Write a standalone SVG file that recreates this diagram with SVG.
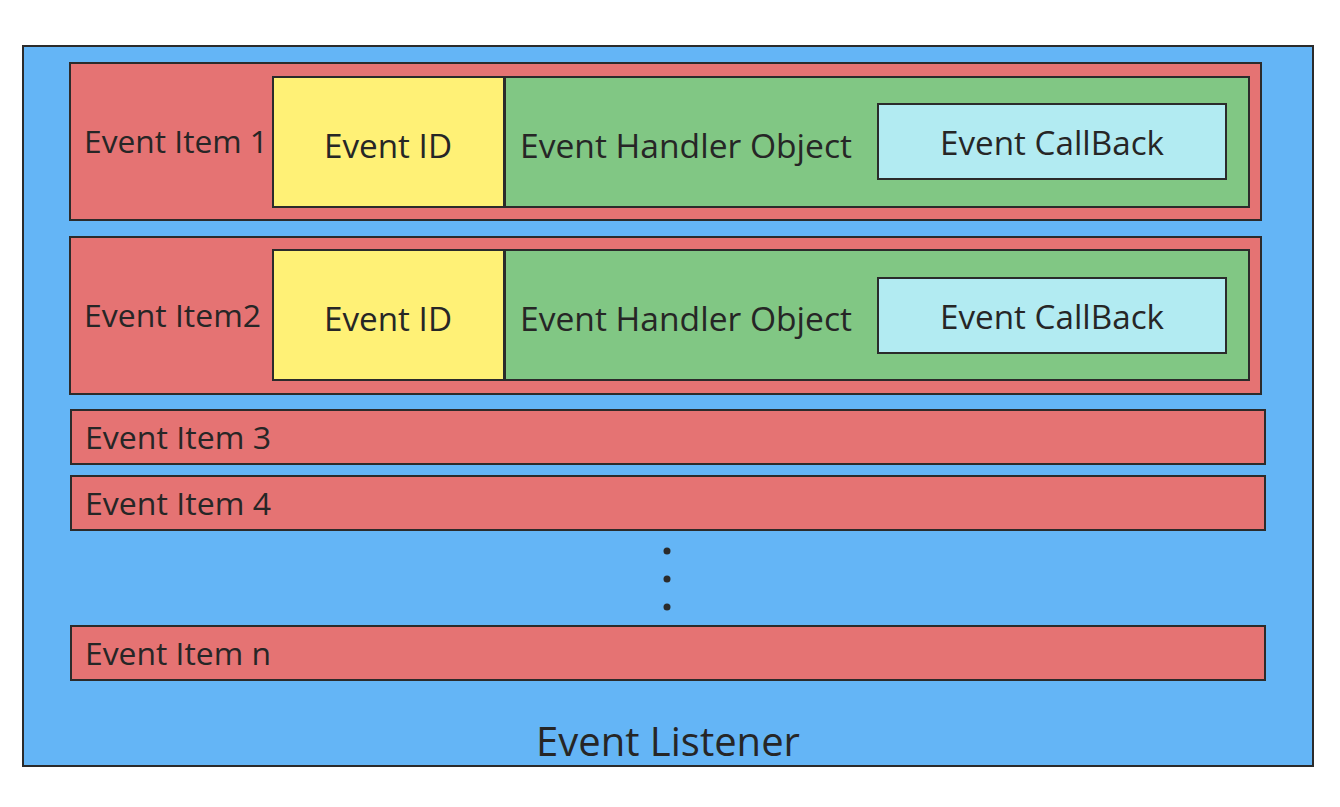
<svg xmlns="http://www.w3.org/2000/svg" width="1340" height="807" viewBox="0 0 1340 807">
  <style>
    .box { stroke: #2b2b2b; stroke-width: 2; }
    .listener { fill: #64b5f6; }
    .item { fill: #e57373; }
    .id { fill: #fff176; }
    .handler { fill: #81c784; }
    .cb { fill: #b2ebf2; }
    text { font-family: "Open Sans", "Noto Sans", sans-serif; fill: #262626; }
    .lbl { font-size: 31px; }
    .inner { font-size: 33px; }
    .title { font-size: 40px; }
  </style>
  <rect width="1340" height="807" fill="#ffffff"/>

  <g id="event-listener">
    <rect class="box listener" x="23" y="46" width="1290" height="720"/>
    <text class="title" x="668" y="756" text-anchor="middle">Event Listener</text>
  </g>

  <g id="event-item-1">
    <rect class="box item" x="70" y="63" width="1191" height="157"/>
    <text class="lbl" x="84" y="153" textLength="184" lengthAdjust="spacingAndGlyphs">Event Item 1</text>
    <g id="event-id-1">
      <rect class="box id" x="273" y="77" width="231" height="130"/>
      <text class="inner" x="324" y="158" textLength="128" lengthAdjust="spacingAndGlyphs">Event ID</text>
    </g>
    <g id="handler-1">
      <rect class="box handler" x="505" y="77" width="744" height="130"/>
      <text class="inner" x="520" y="158" textLength="332" lengthAdjust="spacingAndGlyphs">Event Handler Object</text>
    </g>
    <g id="callback-1">
      <rect class="box cb" x="878" y="104" width="348" height="75"/>
      <text class="inner" x="940" y="155" textLength="224" lengthAdjust="spacingAndGlyphs">Event CallBack</text>
    </g>
  </g>

  <g id="event-item-2">
    <rect class="box item" x="70" y="237" width="1191" height="157"/>
    <text class="lbl" x="84" y="327" textLength="177" lengthAdjust="spacingAndGlyphs">Event Item2</text>
    <g id="event-id-2">
      <rect class="box id" x="273" y="250" width="231" height="130"/>
      <text class="inner" x="324" y="331" textLength="128" lengthAdjust="spacingAndGlyphs">Event ID</text>
    </g>
    <g id="handler-2">
      <rect class="box handler" x="505" y="250" width="744" height="130"/>
      <text class="inner" x="520" y="331" textLength="332" lengthAdjust="spacingAndGlyphs">Event Handler Object</text>
    </g>
    <g id="callback-2">
      <rect class="box cb" x="878" y="278" width="348" height="75"/>
      <text class="inner" x="940" y="329" textLength="224" lengthAdjust="spacingAndGlyphs">Event CallBack</text>
    </g>
  </g>

  <g id="event-item-3">
    <rect class="box item" x="71" y="410" width="1194" height="54"/>
    <text class="lbl" x="85" y="449" textLength="186" lengthAdjust="spacingAndGlyphs">Event Item 3</text>
  </g>

  <g id="event-item-4">
    <rect class="box item" x="71" y="476" width="1194" height="54"/>
    <text class="lbl" x="85" y="515" textLength="186" lengthAdjust="spacingAndGlyphs">Event Item 4</text>
  </g>

  <g id="ellipsis" fill="#2b2b2b">
    <circle cx="667" cy="551" r="3.5"/>
    <circle cx="667" cy="579" r="3.5"/>
    <circle cx="667" cy="607" r="3.5"/>
  </g>

  <g id="event-item-n">
    <rect class="box item" x="71" y="626" width="1194" height="54"/>
    <text class="lbl" x="85" y="665" textLength="186" lengthAdjust="spacingAndGlyphs">Event Item n</text>
  </g>

  <g id="connectors"/>
</svg>
